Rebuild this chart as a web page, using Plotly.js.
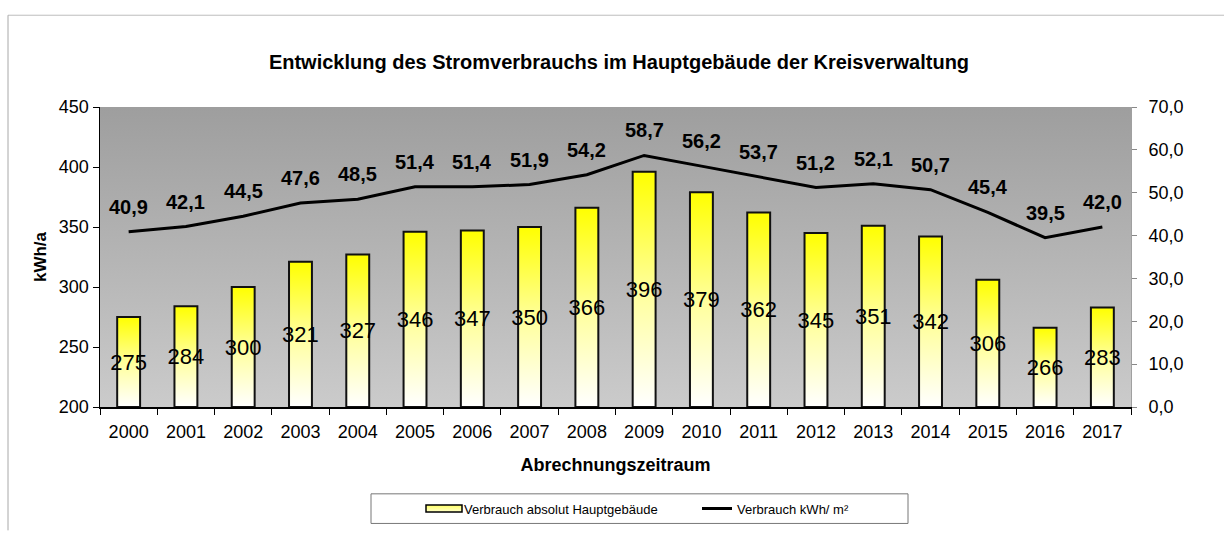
<!DOCTYPE html>
<html>
<head>
<meta charset="utf-8">
<script src="https://cdn.plot.ly/plotly-3.0.1.min.js"></script>
<style>
  html, body { margin: 0; padding: 0; background: #fff; }
  #chart { width: 1224px; height: 536px; }
</style>
</head>
<body>
<div id="chart"></div>
<script>
// ---- data ----
const years = ['2000','2001','2002','2003','2004','2005','2006','2007','2008','2009','2010','2011','2012','2013','2014','2015','2016','2017'];
const absoluteKWh = [275, 284, 300, 321, 327, 346, 347, 350, 366, 396, 379, 362, 345, 351, 342, 306, 266, 283];
const kWhPerM2 = [40.9, 42.1, 44.5, 47.6, 48.5, 51.4, 51.4, 51.9, 54.2, 58.7, 56.2, 53.7, 51.2, 52.1, 50.7, 45.4, 39.5, 42.0];
const seriesNames = ['Verbrauch absolut Hauptgebäude', 'Verbrauch kWh/ m²'];
const chartTitle = 'Entwicklung des Stromverbrauchs im Hauptgebäude der Kreisverwaltung';
const xTitle = 'Abrechnungszeitraum';
const yTitle = 'kWh/a';

// ---- geometry helpers (plot area in pixels) ----
const W = 1224, H = 536;
const M = {l: 100, r: 93, t: 107, b: 125};
const PW = W - M.l - M.r, PH = H - M.t - M.b;
const px = x => (x - M.l) / PW;
const py = y => (H - M.b - y) / PH;

const Y_MIN = 200, Y_MAX = 450;
const FONT = 'Liberation Sans, Arial, sans-serif';
const fmt1 = v => v.toFixed(1).replace('.', ',');

const barTrace = {
  type: 'bar',
  name: seriesNames[0],
  x: years,
  base: Y_MIN,
  y: absoluteKWh.map(v => v - Y_MIN),
  width: 0.4,
  text: absoluteKWh.map(String),
  textposition: 'inside',
  insidetextanchor: 'middle',
  textangle: 0,
  constraintext: 'none',
  insidetextfont: {family: FONT, size: 22, color: '#000'},
  marker: {color: '#ffff66', line: {color: '#111', width: 2}},
  hoverinfo: 'skip'
};

const lineTrace = {
  type: 'scatter',
  mode: 'lines',
  name: seriesNames[1],
  x: years,
  y: kWhPerM2,
  yaxis: 'y2',
  line: {color: '#000', width: 3},
  hoverinfo: 'skip'
};

// category axis: annotations use the category serial number
const annotations = kWhPerM2.map((v, i) => ({
  x: i, y: v, xref: 'x', yref: 'y2',
  text: fmt1(v), showarrow: false, yshift: 25,
  font: {family: FONT, size: 20, color: '#000', weight: 700}
}));

const shapes = [
  {type: 'line', xref: 'paper', yref: 'paper', x0: px(8), x1: px(1224), y0: py(14), y1: py(14), line: {color: '#bdbdbd', width: 1}},
  {type: 'line', xref: 'paper', yref: 'paper', x0: px(8), x1: px(8), y0: py(14), y1: py(536), line: {color: '#a8a8a8', width: 1}},
  {type: 'rect', xref: 'paper', yref: 'paper', x0: px(371), x1: px(908), y0: py(529), y1: py(499), line: {color: '#777', width: 1}, fillcolor: 'rgba(0,0,0,0)'}
];

const layout = {
  width: W, height: H,
  margin: {l: M.l, r: M.r, t: M.t, b: M.b, pad: 0},
  paper_bgcolor: '#fff',
  plot_bgcolor: '#b5b5b5',
  separators: ',.',
  font: {family: FONT, color: '#000', size: 18},
  title: {
    text: chartTitle,
    x: 619 / W, xanchor: 'center',
    y: 1 - 62 / H, yanchor: 'middle',
    font: {family: FONT, size: 20, weight: 700, color: '#000'}
  },
  xaxis: {
    type: 'category',
    range: [-0.5, years.length - 0.5],
    autorange: false,
    tickson: 'boundaries',
    ticks: 'outside', ticklen: 6, tickcolor: '#000', tickwidth: 1,
    showline: true, linecolor: '#000', linewidth: 1.5,
    showgrid: false,
    tickangle: 0,
    ticklabelstandoff: 8,
    tickfont: {size: 18, color: '#000'},
    title: {text: xTitle, font: {size: 18, weight: 700, color: '#000'}, standoff: 17}
  },
  yaxis: {
    range: [Y_MIN, Y_MAX], dtick: 50, autorange: false,
    ticks: 'outside', ticklen: 6, tickcolor: '#000',
    showline: true, linecolor: '#000', linewidth: 1.5,
    showgrid: false, zeroline: false,
    tickfont: {size: 18, color: '#000'},
    title: {text: yTitle, font: {size: 17, weight: 700, color: '#000'}, standoff: 8}
  },
  yaxis2: {
    overlaying: 'y', side: 'right',
    range: [0, 70], dtick: 10, tickformat: '.1f', autorange: false,
    ticks: 'outside', ticklen: 5, tickcolor: '#888',
    showline: true, linecolor: '#a0a0a0', linewidth: 1,
    showgrid: false, zeroline: false,
    ticklabelstandoff: 8,
    tickfont: {size: 18, color: '#000'}
  },
  showlegend: true,
  legend: {
    orientation: 'h',
    x: px(424), xanchor: 'left',
    y: py(514), yanchor: 'middle',
    entrywidth: 228, entrywidthmode: 'pixels',
    bgcolor: 'rgba(0,0,0,0)', borderwidth: 0,
    font: {family: FONT, size: 13, color: '#000'},
    traceorder: 'normal'
  },
  shapes: shapes,
  annotations: annotations
};

function decorate(gd) {
  const ns = 'http://www.w3.org/2000/svg';
  const svg = gd.querySelector('svg.main-svg');
  let defs = svg.querySelector('defs');
  if (!defs) { defs = document.createElementNS(ns, 'defs'); svg.insertBefore(defs, svg.firstChild); }
  function addGrad(id, stops) {
    if (document.getElementById(id)) return;
    const g = document.createElementNS(ns, 'linearGradient');
    g.setAttribute('id', id);
    g.setAttribute('x1', '0'); g.setAttribute('y1', '0');
    g.setAttribute('x2', '0'); g.setAttribute('y2', '1');
    stops.forEach(([off, col]) => {
      const s = document.createElementNS(ns, 'stop');
      s.setAttribute('offset', off);
      s.setAttribute('stop-color', col);
      g.appendChild(s);
    });
    defs.appendChild(g);
  }
  addGrad('barGrad', [['0', '#ffff00'], ['0.5', '#ffff9a'], ['1', '#ffffff']]);
  addGrad('bgGrad', [['0', '#9e9e9e'], ['1', '#cbcbcb']]);
  addGrad('legGrad', [['0', '#ffff66'], ['1', '#ffffcc']]);

  gd.querySelectorAll('.barlayer .trace.bars .point path').forEach(p => { p.style.fill = 'url(#barGrad)'; });
  Array.from(gd.querySelectorAll('rect.bg')).filter(r => !r.closest('.legend')).forEach(r => { r.style.fill = 'url(#bgGrad)'; });
  const legItems = gd.querySelectorAll('.legend .traces');
  if (legItems.length) {
    legItems[0].querySelectorAll('.legendpoints path').forEach(p => {
      p.setAttribute('d', 'M-18,-3.5H18V3.5H-18Z');
      p.style.fill = 'url(#legGrad)';
      p.style.stroke = '#000';
      p.style.strokeWidth = '1.5px';
    });
  }
}

const gd = document.getElementById('chart');
Plotly.newPlot(gd, [barTrace, lineTrace], layout, {displayModeBar: false, staticPlot: true}).then(() => decorate(gd));
</script>
</body>
</html>
